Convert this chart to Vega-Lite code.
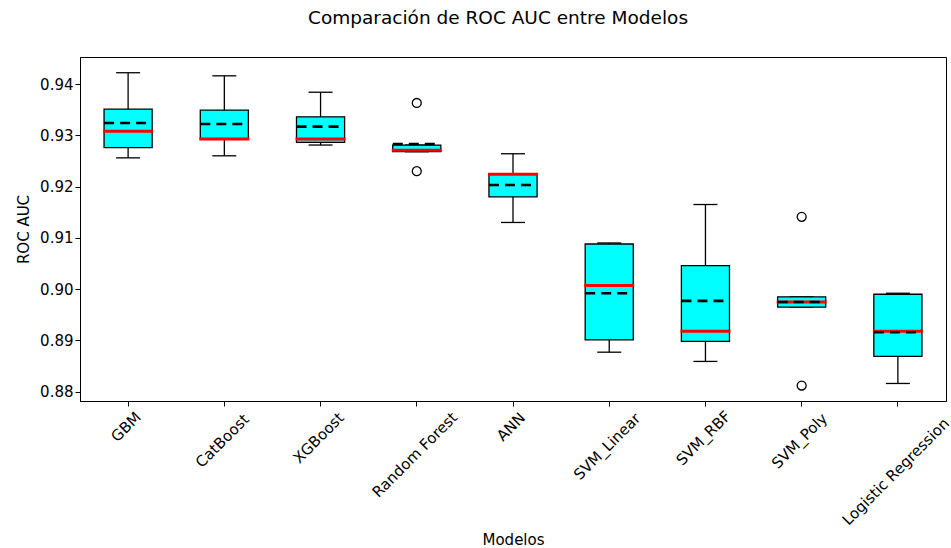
{
  "$schema": "https://vega.github.io/schema/vega-lite/v6.json",
  "width": 866,
  "height": 344,
  "autosize": "none",
  "padding": {"left": 80, "top": 57, "right": 5, "bottom": 147},
  "background": "white",
  "config": {
    "font": "DejaVu Sans",
    "view": {"stroke": "black", "strokeWidth": 1},
    "axis": {"domainColor": "black", "tickColor": "black", "labelColor": "black", "titleColor": "black", "grid": false, "labelFontSize": 15, "titleFontSize": 15, "titleFontWeight": "normal", "tickSize": 5, "labelFont": "DejaVu Sans", "titleFont": "DejaVu Sans"}
  },
  "title": {"text": "Comparación de ROC AUC entre Modelos", "fontSize": 18.5, "fontWeight": "normal", "font": "DejaVu Sans", "color": "black", "baseline": "alphabetic", "offset": 15, "dx": -15},
  "datasets": {
    "stats": [
      {"model": "GBM", "lower": 0.9256, "q1": 0.9276, "median": 0.9308, "q3": 0.9351, "upper": 0.9422, "mean": 0.9324},
      {"model": "CatBoost", "lower": 0.9260, "q1": 0.9293, "median": 0.9293, "q3": 0.9349, "upper": 0.9416, "mean": 0.9322},
      {"model": "XGBoost", "lower": 0.9281, "q1": 0.9286, "median": 0.9293, "q3": 0.9336, "upper": 0.9384, "mean": 0.9317},
      {"model": "Random Forest", "lower": 0.9268, "q1": 0.9268, "median": 0.9271, "q3": 0.9281, "upper": 0.9281, "mean": 0.9283},
      {"model": "ANN", "lower": 0.9130, "q1": 0.9180, "median": 0.9224, "q3": 0.9224, "upper": 0.9264, "mean": 0.9203},
      {"model": "SVM_Linear", "lower": 0.8877, "q1": 0.8901, "median": 0.9007, "q3": 0.9088, "upper": 0.9090, "mean": 0.8992},
      {"model": "SVM_RBF", "lower": 0.8859, "q1": 0.8898, "median": 0.8918, "q3": 0.9046, "upper": 0.9165, "mean": 0.8977},
      {"model": "SVM_Poly", "lower": 0.8965, "q1": 0.8965, "median": 0.8975, "q3": 0.8985, "upper": 0.8985, "mean": 0.8975},
      {"model": "Logistic Regression", "lower": 0.8816, "q1": 0.8869, "median": 0.8918, "q3": 0.8990, "upper": 0.8992, "mean": 0.8916}
    ],
    "outliers": [
      {"model": "Random Forest", "value": 0.9363},
      {"model": "Random Forest", "value": 0.9230},
      {"model": "SVM_Poly", "value": 0.9141},
      {"model": "SVM_Poly", "value": 0.8812}
    ]
  },
  "encoding": {
    "x": {
      "field": "model", "type": "nominal",
      "sort": ["GBM", "CatBoost", "XGBoost", "Random Forest", "ANN", "SVM_Linear", "SVM_RBF", "SVM_Poly", "Logistic Regression"],
      "scale": {"paddingInner": 0, "paddingOuter": 0},
      "title": "Modelos",
      "axis": {"labelAngle": -45, "labelAlign": "center", "labelBaseline": "middle", "labelPadding": {"expr": "12 + 2.8*length(datum.label)"}, "labelOffset": -2, "titlePadding": 5}
    }
  },
  "layer": [
    {
      "data": {"name": "stats"},
      "mark": {"type": "rule", "color": "black", "strokeWidth": 1.3},
      "encoding": {
        "y": {"field": "lower", "type": "quantitative", "scale": {"domain": [0.87818, 0.94527], "nice": false, "zero": false}, "title": "ROC AUC", "axis": {"values": [0.88, 0.89, 0.90, 0.91, 0.92, 0.93, 0.94], "format": ".2f", "titlePadding": 8}},
        "y2": {"field": "upper"}
      }
    },
    {
      "data": {"name": "stats"},
      "mark": {"type": "rule", "color": "black", "strokeWidth": 1.3, "xOffset": -12, "x2Offset": 12},
      "encoding": {"x2": {"field": "model"}, "y": {"field": "lower", "type": "quantitative"}}
    },
    {
      "data": {"name": "stats"},
      "mark": {"type": "rule", "color": "black", "strokeWidth": 1.3, "xOffset": -12, "x2Offset": 12},
      "encoding": {"x2": {"field": "model"}, "y": {"field": "upper", "type": "quantitative"}}
    },
    {
      "data": {"name": "stats"},
      "mark": {"type": "bar", "fill": "#00FFFF", "stroke": "black", "strokeWidth": 1.3, "width": {"band": 0.5}},
      "encoding": {"y": {"field": "q1", "type": "quantitative"}, "y2": {"field": "q3"}}
    },
    {
      "data": {"name": "stats"},
      "mark": {"type": "rule", "color": "#FF0000", "strokeWidth": 3, "xOffset": -25, "x2Offset": 25},
      "encoding": {"x2": {"field": "model"}, "y": {"field": "median", "type": "quantitative"}}
    },
    {
      "data": {"name": "stats"},
      "mark": {"type": "rule", "color": "black", "strokeWidth": 2.6, "strokeDash": [10, 6], "xOffset": -24, "x2Offset": 24},
      "encoding": {"x2": {"field": "model"}, "y": {"field": "mean", "type": "quantitative"}}
    },
    {
      "data": {"name": "outliers"},
      "mark": {"type": "point", "shape": "circle", "filled": false, "stroke": "black", "strokeWidth": 1.3, "size": 80, "opacity": 1},
      "encoding": {"y": {"field": "value", "type": "quantitative"}}
    }
  ]
}
